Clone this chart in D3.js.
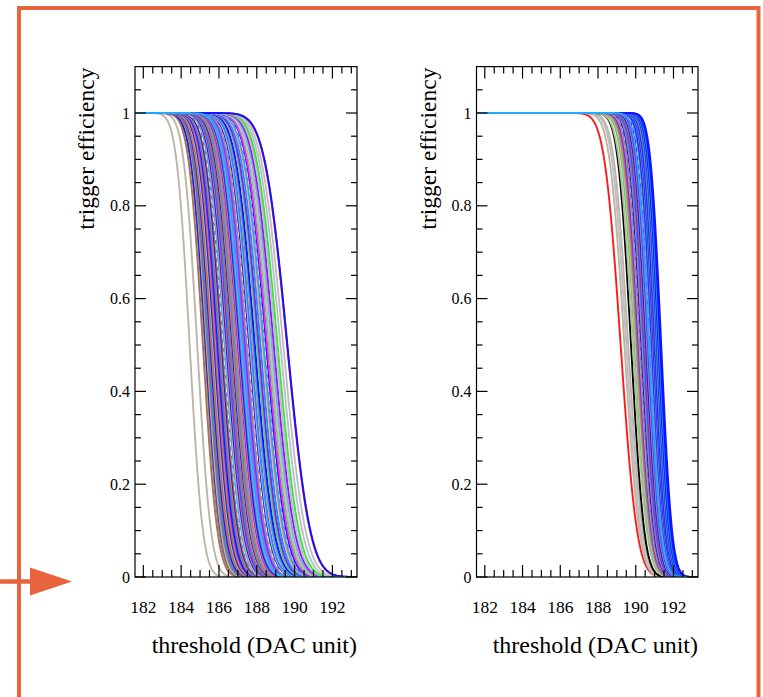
<!DOCTYPE html>
<html><head><meta charset="utf-8">
<script src="https://cdn.jsdelivr.net/npm/d3@7"></script>
<style>body{margin:0;background:#fff} svg{display:block}</style>
</head><body><svg id="c" width="763" height="697"></svg>
<script>
// ---------------- data ----------------
const xMajorTicks = [182, 184, 186, 188, 190, 192];
const yMajorTicks = [0, 0.2, 0.4, 0.6, 0.8, 1];
const yTickLabels = ["0", "0.2", "0.4", "0.6", "0.8", "1"];
const xTitle = "threshold (DAC unit)";
const yTitle = "trigger efficiency";

// left panel: 50% point (DAC) and width (DAC) of each channel's efficiency curve
const leftMu = [184.45,184.85,185.15,185.25,185.3,185.35,185.4,185.45,185.5,185.55,185.6,185.65,185.7,185.75,185.8,185.85,185.9,185.95,186.0,186.05,186.1,186.15,186.2,186.25,186.3,186.35,186.4,186.45,186.5,186.55,186.6,186.7,186.75,186.8,186.85,186.9,187.0,187.05,187.1,187.15,187.2,187.3,187.35,187.4,187.45,187.5,187.55,187.6,187.65,187.7,187.8,187.85,187.9,188.0,188.05,188.1,188.2,188.3,188.35,188.4,188.45,188.5,188.55,188.65,188.7,188.8,188.9,189.0,189.1,189.25,189.4,189.6,189.62,187.25];
const leftSigma = [0.55,0.57,0.6,0.6,0.62,0.6,0.62,0.62,0.63,0.63,0.64,0.64,0.65,0.65,0.65,0.66,0.66,0.66,0.67,0.67,0.68,0.68,0.68,0.69,0.69,0.69,0.7,0.7,0.7,0.71,0.71,0.72,0.72,0.72,0.73,0.73,0.74,0.74,0.74,0.75,0.75,0.76,0.76,0.76,0.77,0.77,0.77,0.78,0.78,0.78,0.79,0.79,0.8,0.8,0.8,0.81,0.81,0.82,0.82,0.83,0.83,0.83,0.84,0.84,0.85,0.85,0.86,0.87,0.88,0.9,0.92,0.95,0.95,0.76];
const leftColor = ["tan","tan","brown","brown","blue","tan","brown","dodger","brown","blue","salmon","brown","tan","blue","brown","salmon","purple","blue","dodger","brown","salmon","blue","brown","white","lightblue","tan","blue","salmon","purple","dodger","brown","blue","salmon","brown","lightblue","salmon","purple","salmon","blue","dodger","steel","salmon","magenta","purple","lightblue","salmon","white","blue","gray","dodger","salmon","lightblue","blue","steel","green","purple","dodger","gray","salmon","lightblue","white","blue","magenta","green","gray","steel","purple","gray","green","gray","gray","red","blue","lightblue"];

// right panel
const rightMu = [189.2,189.4,189.5,189.6,189.75,189.85,189.95,190.0,190.05,190.1,190.15,190.2,190.25,190.28,190.3,190.35,190.4,190.45,190.5,190.55,190.6,190.62,190.65,190.7,190.72,190.75,190.78,190.8,190.82,190.85,190.88,190.9,190.92,190.95,190.98,191.0,191.03,191.06,191.1,191.13,191.16,191.2,191.25,191.3,191.35,190.7];
const rightSigma = [0.68,0.62,0.6,0.6,0.55,0.58,0.56,0.55,0.55,0.54,0.54,0.53,0.53,0.53,0.52,0.52,0.52,0.51,0.51,0.5,0.5,0.5,0.5,0.49,0.49,0.49,0.49,0.48,0.48,0.48,0.48,0.47,0.47,0.47,0.47,0.46,0.46,0.46,0.46,0.45,0.45,0.45,0.45,0.45,0.45,0.5];
const rightColor = ["red","tan","gray","tan","black","tan","green","gray","salmon","brown","purple","steel","brown","white","blue","salmon","dodger","purple","brown","blue","lightblue","salmon","purple","dodger","brown","blue","white","steel","lightblue","purple","blue","brown","dodger","blue","lightblue","purple","blue","dodger","brown","blue","lightblue","blue","dodger","blue","blue","lightblue"];

const palette = {tan:"#bdb5a5", brown:"#a2735d", salmon:"#cf7b73", blue:"#1414ff", dodger:"#1e8cff",
  lightblue:"#22a8ff", purple:"#8020ff", magenta:"#ff22ff", green:"#3ee03e", red:"#ff1a1a",
  black:"#000000", gray:"#bcbfc8", steel:"#8fa6cc", white:"#ffffff"};

// ---------------- drawing ----------------
const svg = d3.select("#c");
const font = "'Liberation Serif','Times New Roman',serif";
const orange = "#e8643e";
const xDomain = [181.56, 193.3];
const yTop = 66.6, yBot = 577;

// frame + arrow
svg.append("rect").attr("x", 19).attr("y", 8).attr("width", 739.5).attr("height", 760)
  .attr("fill", "none").attr("stroke", orange).attr("stroke-width", 4);
svg.append("line").attr("x1", 0).attr("x2", 40).attr("y1", 581.5).attr("y2", 581.5)
  .attr("stroke", orange).attr("stroke-width", 4.5);
svg.append("path").attr("d", "M30,567.5 L72,581.5 L30,595.5 Z").attr("fill", orange);

function Phi(z) {
  const t = z / Math.SQRT2, s = Math.sign(t), a = Math.abs(t);
  const k = 1 / (1 + 0.3275911 * a);
  const e = 1 - (((((1.061405429 * k - 1.453152027) * k) + 1.421413741) * k - 0.284496736) * k + 0.254829592) * k * Math.exp(-a * a);
  return 0.5 * (1 + s * e);
}

function panel(id, x0, x1, mus, sigmas, colors) {
  const g = svg.append("g");
  const x = d3.scaleLinear().domain(xDomain).range([x0, x1]);
  const y = d3.scaleLinear().domain([0, 1.1]).range([yBot, yTop]);
  g.append("clipPath").attr("id", id).append("rect")
    .attr("x", x0).attr("y", yTop).attr("width", x1 - x0).attr("height", yBot - yTop);
  const xs = d3.range(xDomain[0], xDomain[1] + 0.001, 0.04);
  const line = d3.line().x(d => x(d[0])).y(d => y(d[1]));
  const cg = g.append("g").attr("clip-path", `url(#${id})`);
  mus.forEach((mu, i) => {
    const pts = xs.map(v => [v, 1 - Phi((v - mu) / sigmas[i])]);
    const p = cg.append("path").attr("d", line(pts)).attr("fill", "none")
      .attr("stroke", palette[colors[i]]).attr("stroke-width", 1.9);
    if (colors[i] === "white") p.attr("stroke-dasharray", "5,4").attr("stroke-width", 1.5);
  });

  // axes (ticks on all four sides)
  const minorX = d3.range(181.5, 193.3, 0.5).filter(v => v >= xDomain[0]);
  const minorY = d3.range(0, 1.1, 0.05);
  const ax = g.append("g").attr("stroke", "#000").attr("stroke-width", 1.2);
  ax.append("rect").attr("x", x0).attr("y", yTop).attr("width", x1 - x0).attr("height", yBot - yTop)
    .attr("fill", "none");
  minorX.forEach(v => {
    const major = xMajorTicks.includes(Math.round(v * 100) / 100);
    const L = major ? 12 : 7;
    ax.append("line").attr("x1", x(v)).attr("x2", x(v)).attr("y1", yBot).attr("y2", yBot - L);
    ax.append("line").attr("x1", x(v)).attr("x2", x(v)).attr("y1", yTop).attr("y2", yTop + L);
  });
  minorY.forEach(v => {
    const major = Math.abs(v * 5 - Math.round(v * 5)) < 1e-6;
    const L = major ? 11 : 6;
    ax.append("line").attr("x1", x0).attr("x2", x0 + L).attr("y1", y(v)).attr("y2", y(v));
    ax.append("line").attr("x1", x1).attr("x2", x1 - L).attr("y1", y(v)).attr("y2", y(v));
  });
  xMajorTicks.forEach(v => {
    g.append("text").attr("x", x(v)).attr("y", 613).attr("text-anchor", "middle")
      .attr("font-family", font).attr("font-size", 17.5).text(v);
  });
  yMajorTicks.forEach((v, i) => {
    g.append("text").attr("x", x0 - 5).attr("y", y(v) + 5.5).attr("text-anchor", "end")
      .attr("font-family", font).attr("font-size", 16).text(yTickLabels[i]);
  });
  g.append("text").attr("x", x1).attr("y", 653).attr("text-anchor", "end")
    .attr("font-family", font).attr("font-size", 24).text(xTitle);
  g.append("text").attr("transform", `translate(${x0 - 41},${yTop + 1}) rotate(-90)`)
    .attr("text-anchor", "end").attr("font-family", font).attr("font-size", 23.5).text(yTitle);
}

panel("clipL", 135, 357, leftMu, leftSigma, leftColor);
panel("clipR", 476.5, 698, rightMu, rightSigma, rightColor);
</script>
</body></html>
